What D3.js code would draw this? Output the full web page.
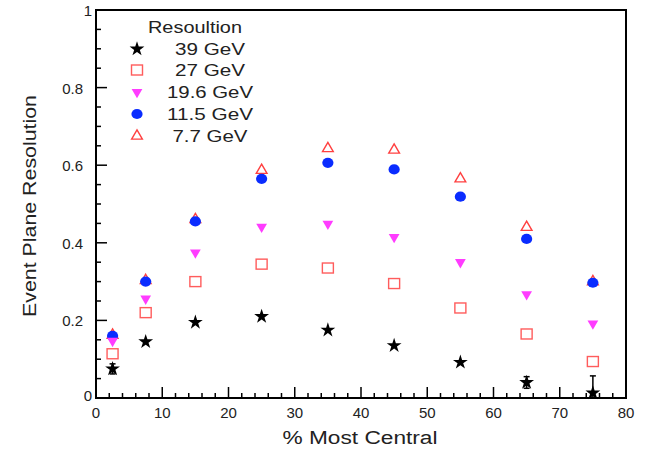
<!DOCTYPE html>
<html>
<head>
<meta charset="utf-8">
<script src="https://cdn.jsdelivr.net/npm/d3@7"></script>
<style>
  html, body { margin: 0; padding: 0; background: #fff; }
  svg { display: block; font-family: "Liberation Sans", Arial, Helvetica, sans-serif; }
</style>
</head>
<body>
<svg id="chart" width="648" height="450"></svg>
<script>
// Centrality bins (% most central, bin centres)
const centrality = [2.5, 7.5, 15, 25, 35, 45, 55, 65, 75];

// Event plane resolution per beam energy
const res39  = [0.075, 0.145, 0.195, 0.210, 0.175, 0.135, 0.092, 0.040, 0.013];
const res27  = [0.114, 0.220, 0.300, 0.345, 0.335, 0.295, 0.232, 0.165, 0.094];
const res196 = [0.147, 0.256, 0.375, 0.441, 0.449, 0.415, 0.350, 0.267, 0.192];
const res115 = [0.160, 0.300, 0.455, 0.565, 0.606, 0.589, 0.519, 0.410, 0.297];
const res77  = [0.162, 0.303, 0.460, 0.587, 0.643, 0.639, 0.565, 0.440, 0.300];

// Statistical errors on the 39 GeV points
const err39 = [0.013, 0.004, 0.003, 0.003, 0.003, 0.003, 0.004, 0.015, 0.044];

const xTicks = [0, 10, 20, 30, 40, 50, 60, 70, 80];
const yTicks = [0, 0.2, 0.4, 0.6, 0.8, 1];
const yTickLabels = ["0", "0.2", "0.4", "0.6", "0.8", "1"];

const legendTitle = "Resoultion";
const legendLabels = ["39 GeV", "27 GeV", "19.6 GeV", "11.5 GeV", "7.7 GeV"];

const series = [
  { name: legendLabels[0], values: res39,  shape: "star" },
  { name: legendLabels[1], values: res27,  shape: "square" },
  { name: legendLabels[2], values: res196, shape: "tridown" },
  { name: legendLabels[3], values: res115, shape: "circle" },
  { name: legendLabels[4], values: res77,  shape: "triup" }
];

const RED = "#ff4040", MAGENTA = "#ff3cff", BLUE = "#0a2cff";

const svg = d3.select("#chart");
const L = 96, R = 626, T = 10, B = 398;

const x = d3.scaleLinear().domain([0, 80]).range([L, R]);
const y = d3.scaleLinear().domain([0, 1]).range([B, T]);

// Tick marks drawn inside the frame
const axes = svg.append("g").attr("stroke", "#000").attr("fill", "none");
d3.range(0, 80.001, 2).forEach(v => {
  const major = Math.abs(v % 10) < 1e-9;
  axes.append("line").attr("x1", x(v)).attr("x2", x(v))
    .attr("y1", B).attr("y2", B - (major ? 11 : 5)).attr("stroke-width", 1.5);
});
d3.range(0, 1.0001, 0.05).forEach(v => {
  const major = Math.abs((v * 5) - Math.round(v * 5)) < 1e-6;
  axes.append("line").attr("y1", y(v)).attr("y2", y(v))
    .attr("x1", L).attr("x2", L + (major ? 11 : 5)).attr("stroke-width", 1.5);
});

// Frame
svg.append("rect").attr("x", L).attr("y", T).attr("width", R - L).attr("height", B - T)
  .attr("fill", "none").attr("stroke", "#000").attr("stroke-width", 2);

// Tick labels
svg.append("g").selectAll("text").data(xTicks).join("text")
  .attr("x", d => x(d)).attr("y", 418)
  .attr("text-anchor", "middle").attr("font-size", 15).attr("fill", "#222")
  .text(d => d);
svg.append("g").selectAll("text").data(yTicks).join("text")
  .attr("x", (d, i) => yTickLabels[i].length === 1 ? 92 : 83)
  .attr("y", (d, i) => y(d) + (i === 0 ? 3 : 6))
  .attr("text-anchor", "end").attr("font-size", 15).attr("fill", "#222")
  .text((d, i) => yTickLabels[i]);

// Axis titles
svg.append("text").attr("x", 360).attr("y", 444).attr("text-anchor", "middle")
  .attr("font-size", 18).attr("fill", "#222").attr("textLength", 155)
  .attr("lengthAdjust", "spacingAndGlyphs").text("% Most Central");
svg.append("text").attr("transform", "translate(36,206) rotate(-90)")
  .attr("text-anchor", "middle").attr("font-size", 19).attr("fill", "#222")
  .attr("textLength", 222).attr("lengthAdjust", "spacingAndGlyphs")
  .text("Event Plane Resolution");

// Marker drawing
function drawMarker(g, shape, cx, cy) {
  if (shape === "star") {
    g.append("path").attr("d", d3.symbol(d3.symbolStar, 68)())
      .attr("transform", `translate(${cx},${cy})`).attr("fill", "#000");
  } else if (shape === "square") {
    g.append("rect").attr("x", cx - 5.5).attr("y", cy - 5).attr("width", 11).attr("height", 10)
      .attr("fill", "none").attr("stroke", RED).attr("stroke-width", 1.4).attr("opacity", 0.85);
  } else if (shape === "tridown") {
    g.append("path").attr("d", d3.symbol(d3.symbolTriangle, 50)())
      .attr("transform", `translate(${cx},${cy}) rotate(180)`).attr("fill", MAGENTA);
  } else if (shape === "circle") {
    g.append("ellipse").attr("cx", cx).attr("cy", cy).attr("rx", 5.6).attr("ry", 5.1)
      .attr("fill", BLUE);
  } else if (shape === "triup") {
    g.append("path").attr("d", d3.symbol(d3.symbolTriangle, 50)())
      .attr("transform", `translate(${cx},${cy})`).attr("fill", "none")
      .attr("stroke", RED).attr("stroke-width", 1.4);
  }
}

// Error bars for the 39 GeV series, clipped to the frame
svg.append("clipPath").attr("id", "plotclip").append("rect")
  .attr("x", L).attr("y", T).attr("width", R - L).attr("height", B - T);
const eb = svg.append("g").attr("clip-path", "url(#plotclip)")
  .attr("stroke", "#000").attr("stroke-width", 1.5);
centrality.forEach((c, i) => {
  const e = err39[i];
  if (e < 0.01) return;
  const v = res39[i];
  eb.append("line").attr("x1", x(c)).attr("x2", x(c)).attr("y1", y(v + e)).attr("y2", y(v - e));
  eb.append("line").attr("x1", x(c) - 3).attr("x2", x(c) + 3).attr("y1", y(v + e)).attr("y2", y(v + e));
  eb.append("line").attr("x1", x(c) - 3).attr("x2", x(c) + 3).attr("y1", y(v - e)).attr("y2", y(v - e));
});

// Data points: draw the 7.7 GeV first, others on top in this order
const drawOrder = [4, 3, 2, 1, 0];
const pts = svg.append("g");
drawOrder.forEach(si => {
  const s = series[si];
  centrality.forEach((c, i) => drawMarker(pts, s.shape, x(c), y(s.values[i])));
});

// Legend
const lg = svg.append("g");
lg.append("text").attr("x", 195).attr("y", 33).attr("text-anchor", "middle")
  .attr("font-size", 17).attr("fill", "#222").attr("textLength", 94)
  .attr("lengthAdjust", "spacingAndGlyphs").text(legendTitle);
const rowY = [49, 70, 92, 114, 136];
series.forEach((s, i) => {
  drawMarker(lg, s.shape, 137, rowY[i]);
  const w = s.name.length === 6 ? 70 : (s.name.length === 7 ? 75 : 86);
  lg.append("text").attr("x", 210).attr("y", rowY[i] + 6).attr("text-anchor", "middle")
    .attr("font-size", 17).attr("fill", "#222").attr("textLength", w)
    .attr("lengthAdjust", "spacingAndGlyphs").text(s.name);
});
</script>
</body>
</html>
